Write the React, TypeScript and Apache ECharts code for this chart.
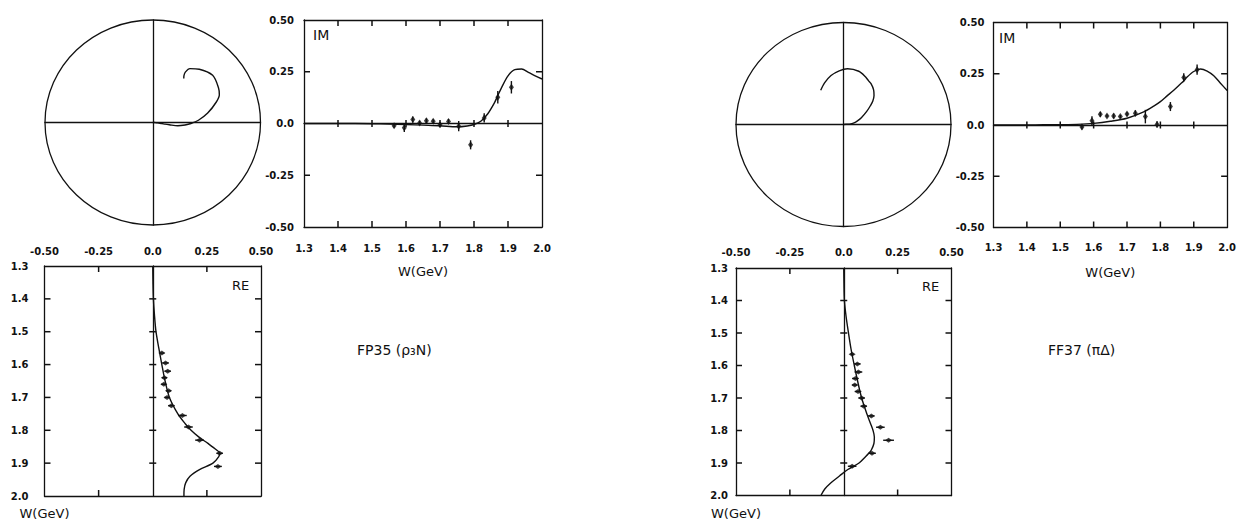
import React, { useEffect, useRef } from 'react';
import * as echarts from 'echarts';

// ---- data ----
const curveW = [1.30, 1.35, 1.40, 1.45, 1.50, 1.55, 1.60, 1.65, 1.70, 1.75, 1.78, 1.80, 1.82, 1.84, 1.86, 1.87, 1.88, 1.90, 1.92, 1.94, 1.96, 1.98, 2.00];

const fp35CurveRe = [0.000, 0.001, 0.003, 0.008, 0.015, 0.028, 0.042, 0.057, 0.077, 0.116, 0.150, 0.177, 0.212, 0.255, 0.295, 0.309, 0.305, 0.278, 0.216, 0.172, 0.152, 0.145, 0.144];
const fp35CurveIm = [0.000, 0.000, 0.000, 0.000, -0.001, -0.003, -0.005, -0.008, -0.011, -0.016, -0.012, -0.005, 0.011, 0.046, 0.100, 0.135, 0.170, 0.230, 0.260, 0.263, 0.247, 0.230, 0.215];

const ff37CurveRe = [0.000, 0.001, 0.003, 0.011, 0.022, 0.034, 0.049, 0.065, 0.083, 0.108, 0.125, 0.136, 0.142, 0.140, 0.128, 0.116, 0.102, 0.071, 0.019, -0.020, -0.058, -0.088, -0.106];
const ff37CurveIm = [0.000, 0.000, 0.000, 0.001, 0.001, 0.003, 0.008, 0.018, 0.033, 0.064, 0.092, 0.114, 0.142, 0.170, 0.200, 0.215, 0.234, 0.261, 0.273, 0.263, 0.240, 0.204, 0.168];

const dataW = [1.565, 1.595, 1.62, 1.64, 1.66, 1.68, 1.70, 1.725, 1.755, 1.79, 1.83, 1.87, 1.91];

const fp35Im = [-0.011, -0.021, 0.019, 0.003, 0.013, 0.011, -0.006, 0.010, -0.013, -0.103, 0.027, 0.127, 0.175];
const fp35ImErr = [0.010, 0.020, 0.015, 0.010, 0.012, 0.010, 0.012, 0.012, 0.025, 0.022, 0.022, 0.030, 0.030];
const fp35Re = [0.042, 0.059, 0.069, 0.054, 0.051, 0.073, 0.066, 0.086, 0.137, 0.165, 0.216, 0.309, 0.301];
const fp35ReErr = [0.012, 0.015, 0.015, 0.012, 0.012, 0.012, 0.012, 0.015, 0.020, 0.020, 0.020, 0.015, 0.018];

const ff37Im = [-0.010, 0.021, 0.052, 0.044, 0.044, 0.041, 0.054, 0.057, 0.041, 0.003, 0.090, 0.232, 0.270];
const ff37ImErr = [0.012, 0.022, 0.012, 0.008, 0.012, 0.008, 0.010, 0.015, 0.033, 0.015, 0.022, 0.020, 0.025];
const ff37Re = [0.039, 0.063, 0.068, 0.054, 0.051, 0.066, 0.083, 0.093, 0.128, 0.170, 0.208, 0.131, 0.039];
const ff37ReErr = [0.008, 0.015, 0.018, 0.015, 0.012, 0.015, 0.015, 0.015, 0.015, 0.020, 0.025, 0.018, 0.020];

// tick positions
const wTicks = [1.4, 1.5, 1.6, 1.7, 1.8, 1.9];
const ampTicks = [-0.25, 0.25];

const panelTitles = ['FP35 (ρ₃N)', 'FF37 (πΔ)'];
const axisTitle = 'W(GeV)';

// ---- layout ----
const INK = '#111';
const TICK = 6;
const CROSS = 3.5;
const layouts = [
  {
    argand: { left: 45, top: 20, width: 215.5, height: 205 },
    im: { left: 304, top: 20, width: 238, height: 207 },
    re: { left: 44.5, top: 266, width: 216.5, height: 230 },
    imYMargin: 10, imXMargin: 16, reYMargin: 16, reXMargin: 10,
    imTag: [313, 28], reTag: [232, 279], title: [357, 343],
  },
  {
    argand: { left: 736, top: 22.5, width: 215, height: 204 },
    im: { left: 993.5, top: 22.5, width: 235, height: 205 },
    re: { left: 736, top: 268, width: 215.5, height: 227.5 },
    imYMargin: 9, imXMargin: 15, reYMargin: 8, reXMargin: 11,
    imTag: [999, 31], reTag: [922, 280], title: [1048, 343],
  },
];

const tickFont = { color: INK, fontSize: 10, fontWeight: 'bold' as const, fontFamily: 'DejaVu Sans' };
const mkLine = () => ({ color: INK, width: 1.3 });
const fmt2 = (v: number) => (Math.abs(v) < 1e-9 ? '0.0' : v.toFixed(2));
const fmt1 = (v: number) => v.toFixed(1);
const seg = (x1: number, y1: number, x2: number, y2: number) => ({
  type: 'line', shape: { x1, y1, x2, y2 }, style: { stroke: INK, lineWidth: 1.5 },
});

function buildOption() {
  const grid: any[] = [];
  const xAxis: any[] = [];
  const yAxis: any[] = [];
  const series: any[] = [];
  const graphic: any[] = [];

  const addX = (o: any) => { xAxis.push(o); return xAxis.length - 1; };
  const addY = (o: any) => { yAxis.push(o); return yAxis.length - 1; };

  const W = (g: number, extra: any) => ({
    type: 'value', gridIndex: g, min: 1.3, max: 2.0, interval: 0.1,
    splitLine: { show: false },
    axisLine: { show: true, onZero: false, lineStyle: mkLine() },
    axisTick: { show: false },
    axisLabel: { show: false },
    ...extra,
  });
  const A = (g: number, extra: any) => ({
    type: 'value', gridIndex: g, min: -0.5, max: 0.5, interval: 0.25,
    splitLine: { show: false },
    axisLine: { show: true, onZero: false, lineStyle: mkLine() },
    axisTick: { show: false },
    axisLabel: { show: false },
    ...extra,
  });

  const panels = [
    { cRe: fp35CurveRe, cIm: fp35CurveIm, im: fp35Im, imE: fp35ImErr, re: fp35Re, reE: fp35ReErr },
    { cRe: ff37CurveRe, cIm: ff37CurveIm, im: ff37Im, imE: ff37ImErr, re: ff37Re, reE: ff37ReErr },
  ];

  panels.forEach((p, k) => {
    const L = layouts[k];

    // Argand diagram
    const gA = grid.length; grid.push(L.argand);
    const xA = addX(A(gA, { axisLine: { show: true, onZero: true, lineStyle: mkLine() } }));
    const yA = addY(A(gA, { axisLine: { show: true, onZero: true, lineStyle: mkLine() } }));
    series.push({
      type: 'custom', xAxisIndex: xA, yAxisIndex: yA, silent: true, clip: false,
      data: [[0, 0, 0.5]],
      renderItem: (_: any, api: any) => {
        const c = api.coord([api.value(0), api.value(1)]);
        const r = api.value(2);
        const px = api.coord([api.value(0) + r, api.value(1)]);
        const py = api.coord([api.value(0), api.value(1) + r]);
        return {
          type: 'ellipse',
          shape: { cx: c[0], cy: c[1], rx: Math.abs(px[0] - c[0]), ry: Math.abs(c[1] - py[1]) },
          style: { fill: 'none', stroke: INK, lineWidth: 1.3 },
        };
      },
    });
    series.push({
      type: 'line', xAxisIndex: xA, yAxisIndex: yA, showSymbol: false, smooth: 0.3,
      data: curveW.map((_, i) => [p.cRe[i], p.cIm[i]]),
      lineStyle: { color: INK, width: 1.4 },
    });

    // IM vs W
    const gI = grid.length; grid.push(L.im);
    const xIb = addX(W(gI, {
      position: 'bottom',
      axisLabel: { show: true, ...tickFont, margin: L.imXMargin, formatter: fmt1, showMinLabel: true, showMaxLabel: true },
      name: axisTitle, nameLocation: 'middle', nameGap: 38,
      nameTextStyle: { color: INK, fontSize: 13, fontFamily: 'DejaVu Sans' },
    }));
    addX(W(gI, { position: 'top' }));
    const yIl = addY(A(gI, {
      position: 'left',
      axisLabel: { show: true, ...tickFont, margin: L.imYMargin, formatter: fmt2, showMinLabel: true, showMaxLabel: true },
    }));
    addY(A(gI, { position: 'right' }));
    addX(W(gI, { position: 'bottom', axisLine: { show: true, onZero: true, onZeroAxisIndex: yIl, lineStyle: mkLine() } }));

    // tick marks of the IM box: W ticks on top, bottom and the zero line
    series.push({
      type: 'custom', xAxisIndex: xIb, yAxisIndex: yIl, silent: true, clip: false,
      data: wTicks.map((w) => [w, 0]),
      renderItem: (params: any, api: any) => {
        const cs = params.coordSys;
        const pt = api.coord([api.value(0), api.value(1)]);
        return {
          type: 'group', children: [
            seg(pt[0], cs.y, pt[0], cs.y + TICK),
            seg(pt[0], cs.y + cs.height, pt[0], cs.y + cs.height - TICK),
            seg(pt[0], pt[1] - CROSS, pt[0], pt[1] + CROSS),
          ],
        };
      },
    });
    series.push({
      type: 'custom', xAxisIndex: xIb, yAxisIndex: yIl, silent: true, clip: false,
      data: ampTicks.map((a) => [1.3, a]),
      renderItem: (params: any, api: any) => {
        const cs = params.coordSys;
        const pt = api.coord([api.value(0), api.value(1)]);
        return {
          type: 'group', children: [
            seg(cs.x, pt[1], cs.x + TICK, pt[1]),
            seg(cs.x + cs.width, pt[1], cs.x + cs.width - TICK, pt[1]),
          ],
        };
      },
    });

    series.push({
      type: 'line', xAxisIndex: xIb, yAxisIndex: yIl, showSymbol: false, smooth: 0.3,
      data: curveW.map((w, i) => [w, p.cIm[i]]),
      lineStyle: { color: INK, width: 1.4 },
    });
    series.push({
      type: 'custom', xAxisIndex: xIb, yAxisIndex: yIl, silent: true,
      data: dataW.map((w, i) => [w, p.im[i], p.imE[i]]),
      renderItem: (_: any, api: any) => {
        const a = api.coord([api.value(0), api.value(1) - api.value(2)]);
        const b = api.coord([api.value(0), api.value(1) + api.value(2)]);
        return { type: 'line', shape: { x1: a[0], y1: a[1], x2: b[0], y2: b[1] }, style: { stroke: INK, lineWidth: 1.4 } };
      },
    });
    series.push({
      type: 'scatter', xAxisIndex: xIb, yAxisIndex: yIl, symbol: 'diamond', symbolSize: [5, 7],
      itemStyle: { color: INK }, data: dataW.map((w, i) => [w, p.im[i]]),
    });

    // RE vs W (rotated)
    const gR = grid.length; grid.push(L.re);
    const xRt = addX(A(gR, {
      position: 'top',
      axisLabel: { show: true, ...tickFont, margin: L.reXMargin, formatter: fmt2, showMinLabel: true, showMaxLabel: true },
    }));
    addX(A(gR, { position: 'bottom' }));
    const yRl = addY(W(gR, {
      position: 'left', inverse: true,
      axisLabel: { show: true, ...tickFont, margin: L.reYMargin, formatter: fmt1, showMinLabel: true, showMaxLabel: true },
      name: axisTitle, nameLocation: 'end', nameGap: 11,
      nameTextStyle: { color: INK, fontSize: 13, fontFamily: 'DejaVu Sans', align: 'center', verticalAlign: 'top' },
    }));
    addY(W(gR, { position: 'right', inverse: true }));
    addY(W(gR, { position: 'left', inverse: true, axisLine: { show: true, onZero: true, onZeroAxisIndex: xRt, lineStyle: mkLine() } }));

    series.push({
      type: 'custom', xAxisIndex: xRt, yAxisIndex: yRl, silent: true, clip: false,
      data: wTicks.map((w) => [0, w]),
      renderItem: (params: any, api: any) => {
        const cs = params.coordSys;
        const pt = api.coord([api.value(0), api.value(1)]);
        return {
          type: 'group', children: [
            seg(cs.x, pt[1], cs.x + TICK, pt[1]),
            seg(cs.x + cs.width, pt[1], cs.x + cs.width - TICK, pt[1]),
            seg(pt[0] - CROSS, pt[1], pt[0] + CROSS, pt[1]),
          ],
        };
      },
    });
    series.push({
      type: 'custom', xAxisIndex: xRt, yAxisIndex: yRl, silent: true, clip: false,
      data: ampTicks.map((a) => [a, 1.3]),
      renderItem: (params: any, api: any) => {
        const cs = params.coordSys;
        const pt = api.coord([api.value(0), api.value(1)]);
        return {
          type: 'group', children: [
            seg(pt[0], cs.y, pt[0], cs.y + TICK),
            seg(pt[0], cs.y + cs.height, pt[0], cs.y + cs.height - TICK),
          ],
        };
      },
    });

    series.push({
      type: 'line', xAxisIndex: xRt, yAxisIndex: yRl, showSymbol: false, smooth: 0.3,
      data: curveW.map((w, i) => [p.cRe[i], w]),
      lineStyle: { color: INK, width: 1.4 },
    });
    series.push({
      type: 'custom', xAxisIndex: xRt, yAxisIndex: yRl, silent: true,
      data: dataW.map((w, i) => [p.re[i], w, p.reE[i]]),
      renderItem: (_: any, api: any) => {
        const a = api.coord([api.value(0) - api.value(2), api.value(1)]);
        const b = api.coord([api.value(0) + api.value(2), api.value(1)]);
        return { type: 'line', shape: { x1: a[0], y1: a[1], x2: b[0], y2: b[1] }, style: { stroke: INK, lineWidth: 1.4 } };
      },
    });
    series.push({
      type: 'scatter', xAxisIndex: xRt, yAxisIndex: yRl, symbol: 'diamond', symbolSize: [7, 5],
      itemStyle: { color: INK }, data: dataW.map((w, i) => [p.re[i], w]),
    });

    // texts
    graphic.push({ type: 'text', x: L.imTag[0], y: L.imTag[1], style: { text: 'IM', fill: INK, fontSize: 14, fontFamily: 'DejaVu Sans' } });
    graphic.push({ type: 'text', x: L.reTag[0], y: L.reTag[1], style: { text: 'RE', fill: INK, fontSize: 13, fontFamily: 'DejaVu Sans' } });
    graphic.push({ type: 'text', x: L.title[0], y: L.title[1], style: { text: panelTitles[k], fill: INK, fontSize: 14, fontFamily: 'DejaVu Sans' } });
  });

  return {
    animation: false,
    backgroundColor: '#fff',
    grid, xAxis, yAxis, series, graphic,
  };
}

export default function App() {
  const ref = useRef<HTMLDivElement>(null);
  useEffect(() => {
    if (!ref.current) return;
    const chart = echarts.init(ref.current, null, { renderer: 'svg' });
    chart.setOption(buildOption() as any);
    return () => chart.dispose();
  }, []);
  return (
    <div
      ref={ref}
      style={{ position: 'fixed', left: 0, top: 0, width: 1239, height: 525, background: '#fff' }}
    />
  );
}
